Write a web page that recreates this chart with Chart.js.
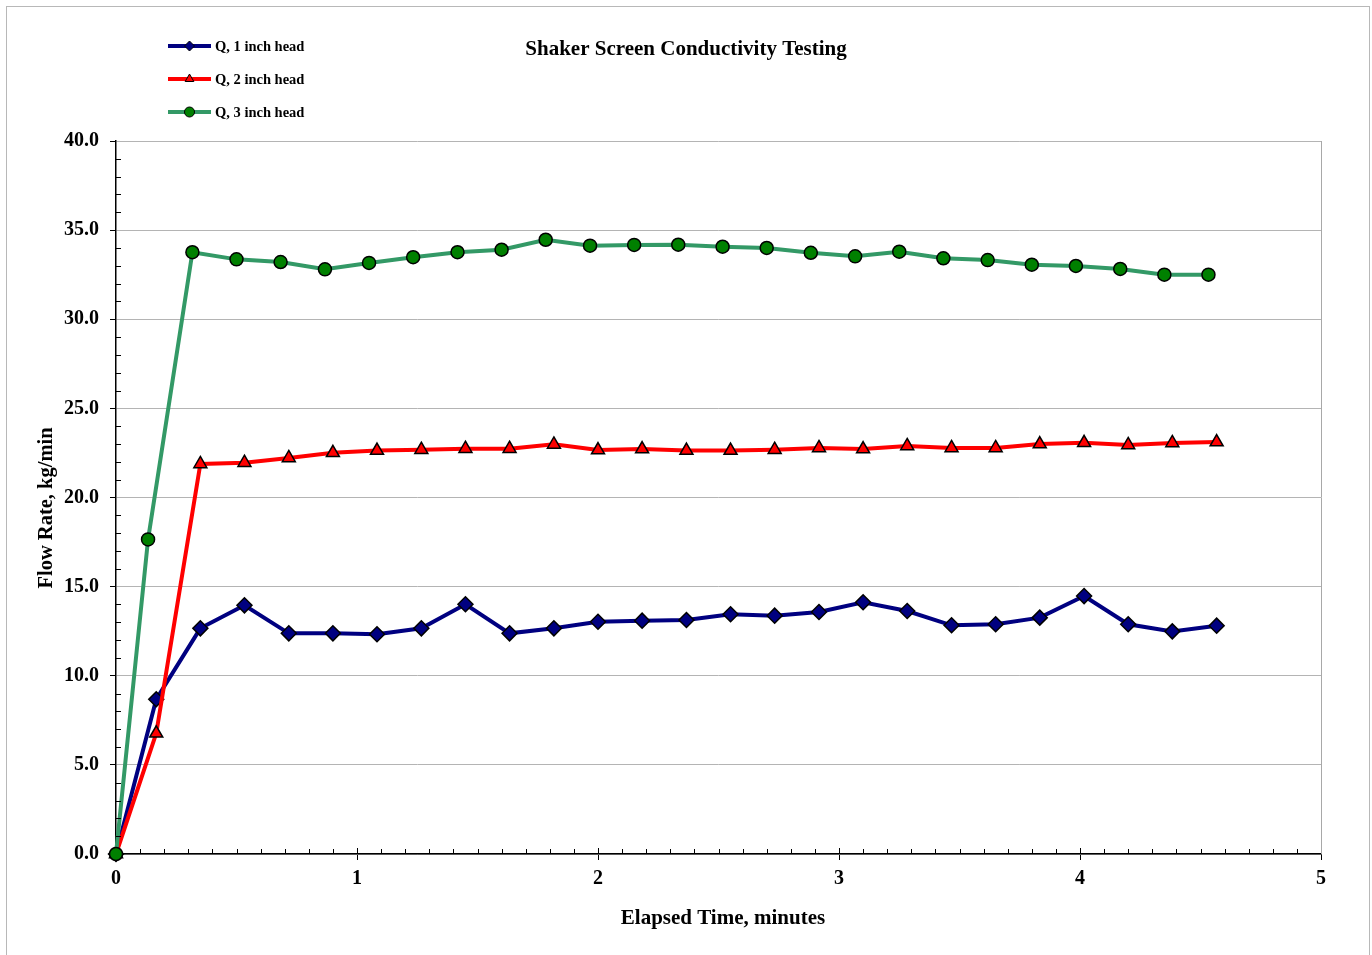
<!DOCTYPE html>
<html>
<head>
<meta charset="utf-8">
<script src="https://cdn.jsdelivr.net/npm/chart.js@4.4.0/dist/chart.umd.min.js"></script>
<style>
  html, body { margin: 0; padding: 0; background: #fff; }
  #wrap { width: 1372px; height: 955px; position: relative; }
</style>
</head>
<body>
<div id="wrap"><canvas id="c"></canvas></div>
<script>
// elapsed time (minutes) for the 1 inch and 2 inch head runs
const timesA = [0, 0.167, 0.350, 0.533, 0.717, 0.900, 1.083, 1.267, 1.450, 1.633, 1.817, 2.000, 2.183,
  2.367, 2.550, 2.733, 2.917, 3.100, 3.283, 3.467, 3.650, 3.833, 4.017, 4.200, 4.383, 4.567];
// elapsed time (minutes) for the 3 inch head run
const timesB = [0, 0.133, 0.317, 0.500, 0.683, 0.867, 1.050, 1.233, 1.417, 1.600, 1.783, 1.967, 2.150,
  2.333, 2.517, 2.700, 2.883, 3.067, 3.250, 3.433, 3.617, 3.800, 3.983, 4.167, 4.350, 4.533];

const q1inch = [0, 8.68, 12.66, 13.95, 12.38, 12.38, 12.33, 12.66, 14.01, 12.38, 12.66, 13.03, 13.09,
  13.13, 13.45, 13.37, 13.58, 14.12, 13.63, 12.83, 12.89, 13.26, 14.47, 12.89, 12.49, 12.81];
const q2inch = [0, 6.77, 21.88, 21.95, 22.22, 22.51, 22.63, 22.68, 22.74, 22.74, 22.98, 22.66, 22.72,
  22.63, 22.63, 22.68, 22.78, 22.72, 22.89, 22.78, 22.78, 23.00, 23.07, 22.95, 23.06, 23.11];
const q3inch = [0, 17.65, 33.76, 33.36, 33.21, 32.80, 33.16, 33.48, 33.76, 33.90, 34.46, 34.13, 34.17,
  34.18, 34.07, 34.00, 33.73, 33.53, 33.79, 33.42, 33.32, 33.06, 32.99, 32.82, 32.50, 32.50];

const seriesNames = ['Q, 1 inch head', 'Q, 2 inch head', 'Q, 3 inch head'];
const xTicks = [0, 1, 2, 3, 4, 5];
const yTicks = [0, 5, 10, 15, 20, 25, 30, 35, 40];
const chartTitle = 'Shaker Screen Conductivity Testing';
const xTitle = 'Elapsed Time, minutes';
const yTitle = 'Flow Rate, kg/min';

const serif = "'Liberation Serif', 'Times New Roman', serif";

function pts(xs, ys) {
  return xs.map((x, i) => ({ x: x, y: ys[i] }));
}

// frame, titles, minor ticks, right border and the legend in the top left corner
const extras = {
  id: 'extras',
  beforeDraw(chart) {
    const ctx = chart.ctx;
    ctx.save();
    ctx.fillStyle = '#fff';
    ctx.fillRect(0, 0, chart.width, chart.height);
    ctx.strokeStyle = '#b8b8b8';
    ctx.lineWidth = 1;
    ctx.strokeRect(6.5, 6.5, 1363, 960);
    ctx.restore();
  },
  afterDraw(chart) {
    const ctx = chart.ctx;
    const a = chart.chartArea;
    const xs = chart.scales.x, ys = chart.scales.y;
    ctx.save();
    // right border of plot
    ctx.strokeStyle = '#a8a8a8';
    ctx.lineWidth = 1;
    ctx.beginPath();
    ctx.moveTo(Math.round(a.right) + 0.5, a.top);
    ctx.lineTo(Math.round(a.right) + 0.5, a.bottom);
    ctx.stroke();

    // minor ticks
    ctx.strokeStyle = '#000';
    ctx.beginPath();
    for (let k = 1; k < 40; k++) {
      if (k % 5 === 0) continue;
      const y = Math.round(ys.getPixelForValue(k)) + 0.5;
      ctx.moveTo(a.left, y);
      ctx.lineTo(a.left + 5, y);
    }
    for (let k = 1; k < 50; k++) {
      const x = Math.round(xs.getPixelForValue(k / 10)) + 0.5;
      ctx.moveTo(x, a.bottom);
      ctx.lineTo(x, a.bottom - (k % 10 === 0 ? 6 : 5));
    }
    ctx.stroke();

    // titles
    ctx.fillStyle = '#000';
    ctx.textAlign = 'center';
    ctx.textBaseline = 'middle';
    ctx.font = 'bold 21px ' + serif;
    ctx.fillText(chartTitle, 686, 50);
    ctx.fillText(xTitle, 723, 919);
    ctx.save();
    ctx.translate(47, 508);
    ctx.rotate(-Math.PI / 2);
    ctx.font = 'bold 20.5px ' + serif;
    ctx.fillText(yTitle, 0, 0);
    ctx.restore();

    // legend
    const sets = chart.data.datasets.slice().sort((p, q) => p.legendIndex - q.legendIndex);
    sets.forEach((ds, i) => {
      const y = 46 + i * 33;
      ctx.strokeStyle = ds.borderColor;
      ctx.lineWidth = 4;
      ctx.beginPath();
      ctx.moveTo(168, y);
      ctx.lineTo(211, y);
      ctx.stroke();
      ctx.fillStyle = ds.pointBackgroundColor;
      ctx.strokeStyle = '#000';
      ctx.lineWidth = 1;
      Chart.helpers.drawPoint(ctx, { pointStyle: ds.pointStyle, radius: 5, borderWidth: 1, rotation: 0 }, 189.5, y);
      ctx.fillStyle = '#000';
      ctx.font = 'bold 14.5px ' + serif;
      ctx.textAlign = 'left';
      ctx.textBaseline = 'middle';
      ctx.fillText(ds.label, 215, y + 1);
    });
    ctx.restore();
  }
};

new Chart(document.getElementById('c'), {
  type: 'line',
  data: {
    datasets: [
      {
        label: seriesNames[0], legendIndex: 0, order: 3,
        data: pts(timesA, q1inch),
        borderColor: '#000080', borderWidth: 4,
        pointStyle: 'rectRot', pointRadius: 7.5,
        pointBackgroundColor: '#000080', pointBorderColor: '#000', pointBorderWidth: 1.5
      },
      {
        label: seriesNames[1], legendIndex: 1, order: 2,
        data: pts(timesA, q2inch),
        borderColor: '#ff0000', borderWidth: 4,
        pointStyle: 'triangle', pointRadius: 7.5,
        pointBackgroundColor: '#ff0000', pointBorderColor: '#000', pointBorderWidth: 1.5
      },
      {
        label: seriesNames[2], legendIndex: 2, order: 1,
        data: pts(timesB, q3inch),
        borderColor: '#339966', borderWidth: 4,
        pointStyle: 'circle', pointRadius: 6.5,
        pointBackgroundColor: '#008000', pointBorderColor: '#000', pointBorderWidth: 1.5
      }
    ]
  },
  options: {
    responsive: true,
    maintainAspectRatio: false,
    animation: false,
    devicePixelRatio: 1,
    clip: false,
    tension: 0,
    layout: { padding: { left: 0, right: 51, top: 141, bottom: 0 } },
    plugins: {
      legend: { display: false },
      tooltip: { enabled: false },
      title: { display: false }
    },
    scales: {
      x: {
        type: 'linear',
        min: 0, max: 5,
        afterBuildTicks: s => { s.ticks = xTicks.map(v => ({ value: v })); },
        afterFit: s => { s.height = 101; },
        ticks: { color: '#000', font: { family: serif, size: 20, weight: 'bold' }, padding: 7, maxRotation: 0 },
        grid: { drawOnChartArea: false, drawTicks: true, tickLength: 6, tickColor: '#000' },
        border: { color: '#000', width: 1.5 }
      },
      y: {
        min: 0, max: 40,
        afterBuildTicks: s => { s.ticks = yTicks.map(v => ({ value: v })); },
        afterFit: s => { s.width = 116; },
        ticks: { color: '#000', font: { family: serif, size: 20, weight: 'bold' }, padding: 11,
          callback: v => v.toFixed(1) },
        grid: { color: '#b4b4b4', lineWidth: 1, tickLength: 6, tickColor: '#000' },
        border: { color: '#000', width: 1.5 }
      }
    }
  },
  plugins: [extras]
});
</script>
</body>
</html>
